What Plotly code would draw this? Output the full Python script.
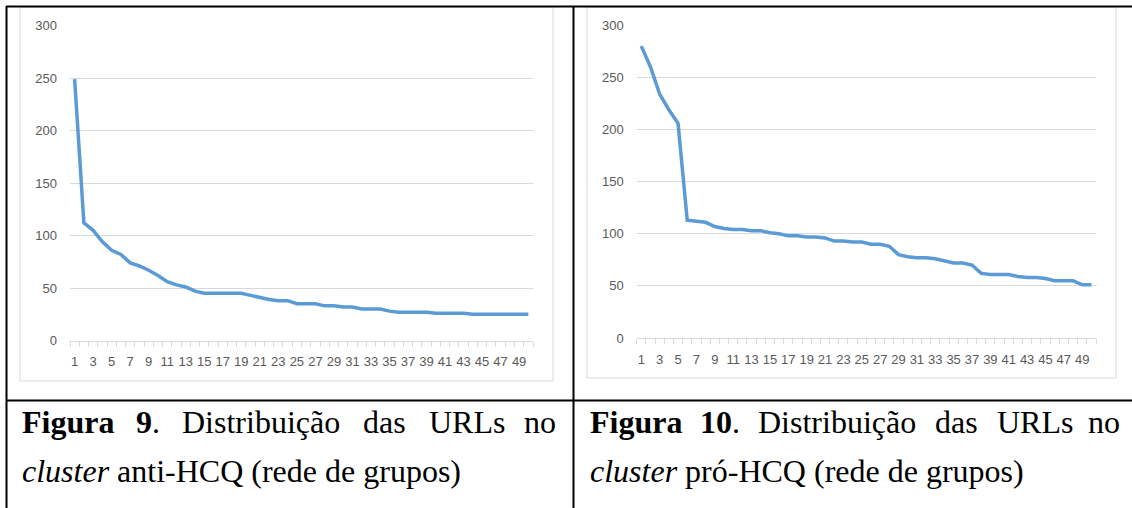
import plotly.graph_objects as go

# ---- data ----
categories = list(range(1, 51))
anti_hcq = [249, 112, 105, 94, 86, 82, 74, 71, 67, 62,
            56, 53, 51, 47, 45, 45, 45, 45, 45, 43,
            41, 39, 38, 38, 35, 35, 35, 33, 33, 32,
            32, 30, 30, 30, 28, 27, 27, 27, 27, 26,
            26, 26, 26, 25, 25, 25, 25, 25, 25, 25]
pro_hcq = [280, 260, 234, 219, 206, 113, 112, 111, 107, 105,
           104, 104, 103, 103, 101, 100, 98, 98, 97, 97,
           96, 93, 93, 92, 92, 90, 90, 88, 80, 78,
           77, 77, 76, 74, 72, 72, 70, 62, 61, 61,
           61, 59, 58, 58, 57, 55, 55, 55, 51, 51]
x_tick_vals = list(range(1, 50, 2))
x_tick_text = [str(v) for v in x_tick_vals]
y_tick_vals = [0, 50, 100, 150, 200, 250, 300]

W, H = 1132, 508
def px(x):
    return x / W
def py(y):
    return 1 - y / H

LINE = "#5B9BD5"
GRID = "#D9D9D9"
LABEL = "#595959"
TICKFONT = dict(family="Liberation Sans", size=13, color=LABEL)

fig = go.Figure()
fig.add_trace(go.Scatter(x=categories, y=anti_hcq, mode="lines",
                         line=dict(color=LINE, width=3.5), xaxis="x", yaxis="y",
                         showlegend=False, hoverinfo="skip"))
fig.add_trace(go.Scatter(x=categories, y=pro_hcq, mode="lines",
                         line=dict(color=LINE, width=3.5), xaxis="x2", yaxis="y2",
                         showlegend=False, hoverinfo="skip"))

def xaxis_cfg(domain, anchor):
    return dict(domain=domain, anchor=anchor, range=[0.5, 50.5], automargin=False,
                tickmode="array", tickvals=x_tick_vals, ticktext=x_tick_text,
                ticks="", tickangle=0, showgrid=False, zeroline=False,
                showline=True, linecolor=GRID, linewidth=1,
                tickfont=TICKFONT, ticklabelstandoff=9,
                minor=dict(tickmode="array", tickvals=[i + 0.5 for i in range(0, 51)],
                           ticks="outside", ticklen=5, tickcolor=GRID, tickwidth=1,
                           showgrid=False))

def yaxis_cfg(domain, anchor):
    return dict(domain=domain, anchor=anchor, range=[0, 300], automargin=False,
                tickmode="array", tickvals=y_tick_vals, ticks="",
                showgrid=True, gridcolor=GRID, gridwidth=1, zeroline=False,
                showline=False, tickfont=TICKFONT, ticklabelstandoff=12)

fig.update_layout(
    width=W, height=H, autosize=False,
    margin=dict(l=0, r=0, t=0, b=0, pad=0, autoexpand=False),
    paper_bgcolor="white", plot_bgcolor="white",
    xaxis=xaxis_cfg([px(70), px(533)], "y"),
    yaxis=yaxis_cfg([py(340.5), py(25.7)], "x"),
    xaxis2=xaxis_cfg([px(636.7), px(1096)], "y2"),
    yaxis2=yaxis_cfg([py(338), py(25.3)], "x2"),
)

shapes = []
# chart-area borders (light)
shapes.append(dict(type="rect", xref="paper", yref="paper",
                   x0=px(20), x1=px(553), y0=py(381), y1=py(7),
                   line=dict(color=GRID, width=1), layer="below"))
shapes.append(dict(type="rect", xref="paper", yref="paper",
                   x0=px(587), x1=px(1116), y0=py(378), y1=py(7),
                   line=dict(color=GRID, width=1), layer="below"))
# table borders (black)
def bline(x0, y0, x1, y1, c="black"):
    shapes.append(dict(type="line", xref="paper", yref="paper",
                       x0=px(x0), y0=py(y0), x1=px(x1), y1=py(y1),
                       line=dict(color=c, width=2), layer="above"))
bline(6, 6.5, W, 6.5)
bline(6, 400.5, W, 400.5)
bline(6.5, 6, 6.5, H)
bline(573.5, 6, 573.5, H)
fig.update_layout(shapes=shapes)

SERIF = dict(family="Liberation Serif", size=32, color="black")
ann = []
def word(x, y, text, anchor="left"):
    ann.append(dict(xref="paper", yref="paper", x=px(x), y=py(y), text=text,
                    showarrow=False, xanchor=anchor, yanchor="middle",
                    font=SERIF, align="left"))

# left caption, line 1 (justified)
word(20, 422, "<b>Figura</b>")
word(133.5, 422, "<b>9</b>.")
word(180.3, 422, "Distribuição")
word(361.3, 422, "das")
word(426.8, 422, "URLs")
word(558, 422, "no", "right")
word(20, 471, "<i>cluster</i> anti-HCQ (rede de grupos)")
# right caption, line 1 (justified)
word(588, 422, "<b>Figura</b>")
word(697.5, 422, "<b>10</b>.")
word(756.3, 422, "Distribuição")
word(933.3, 422, "das")
word(994.8, 422, "URLs")
word(1122, 422, "no", "right")
word(588, 471, "<i>cluster</i> pró-HCQ (rede de grupos)")
fig.update_layout(annotations=ann)

post = (
    "document.documentElement.style.margin='0';"
    "document.body.style.margin='0';"
    "document.body.style.overflow='hidden';"
    "var gd=document.getElementById('{plot_id}');"
    "gd.style.position='fixed';gd.style.top='0px';gd.style.left='0px';"
)
fig.write_html("out.html", config={"displayModeBar": False}, post_script=post)
